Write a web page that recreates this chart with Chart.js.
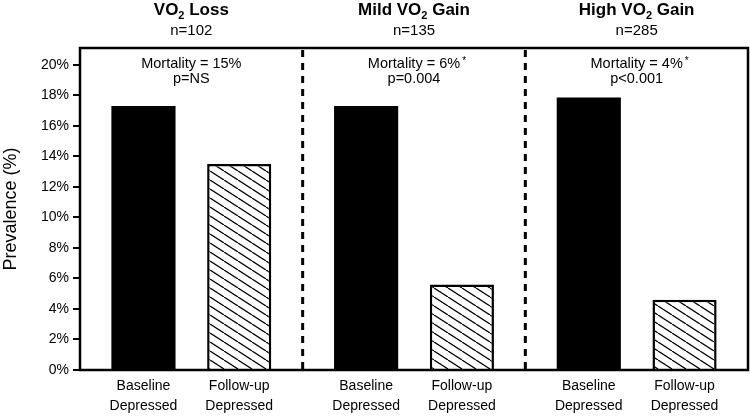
<!DOCTYPE html>
<html><head><meta charset="utf-8">
<script src="https://cdn.jsdelivr.net/npm/chart.js@4"></script>
<style>html,body{margin:0;padding:0;background:#fff}#wrap{width:750px;height:418px;position:relative}</style>
</head><body><div id="wrap"><canvas id="c"></canvas></div>
<script>
// ---- data ----
const groups = ['VO2 Loss', 'Mild VO2 Gain', 'High VO2 Gain'];
const titlePre = ['VO', 'Mild VO', 'High VO'];
const titlePost = [' Loss', ' Gain', ' Gain'];
const groupN = ['n=102', 'n=135', 'n=285'];
const baselineDepressed = [17.3, 17.3, 17.85];
const followupDepressed = [13.5, 5.6, 4.6];
const mortalityText = ['Mortality = 15%', 'Mortality = 6%', 'Mortality = 4%'];
const mortalityStar = [false, true, true];
const pValues = ['p=NS', 'p=0.004', 'p<0.001'];
const barLabels = [['Baseline', 'Depressed'], ['Follow-up', 'Depressed']];
const yTickValues = [0, 2, 4, 6, 8, 10, 12, 14, 16, 18, 20];
const yMax = 21.1;

const FONT = '"Liberation Sans", Arial, Helvetica, sans-serif';

function hatchPattern() {
  const w = 14, h = 9;
  const c = document.createElement('canvas');
  c.width = w; c.height = h;
  const x = c.getContext('2d');
  x.fillStyle = '#fff'; x.fillRect(0, 0, w, h);
  x.strokeStyle = '#000'; x.lineWidth = 1.3;
  x.beginPath();
  for (const k of [-w, 0, w]) { x.moveTo(k, 0); x.lineTo(k + w, h); }
  x.stroke();
  return x.createPattern(c, 'repeat');
}

const decorPlugin = {
  id: 'decor',
  afterDraw(chart) {
    const ctx = chart.ctx;
    const ca = chart.chartArea;
    const xs = chart.scales.x;
    ctx.save();
    // dashed dividers
    ctx.strokeStyle = '#000'; ctx.lineWidth = 3; ctx.setLineDash([7, 6]);
    for (let i = 0; i < groups.length - 1; i++) {
      const xp = (xs.getPixelForValue(i) + xs.getPixelForValue(i + 1)) / 2;
      ctx.beginPath(); ctx.moveTo(xp, ca.top + 2); ctx.lineTo(xp, ca.bottom); ctx.stroke();
    }
    ctx.setLineDash([]);
    // box
    ctx.lineWidth = 2.5;
    ctx.strokeRect(ca.left, ca.top, ca.right - ca.left, ca.bottom - ca.top);

    ctx.fillStyle = '#000';
    ctx.textBaseline = 'middle';
    for (let i = 0; i < groups.length; i++) {
      const cx = xs.getPixelForValue(i);
      // title with subscript 2
      const bf = 'bold 17px ' + FONT, sf = 'bold 11px ' + FONT;
      ctx.font = bf; const w1 = ctx.measureText(titlePre[i]).width;
      const w3 = ctx.measureText(titlePost[i]).width;
      ctx.font = sf; const w2 = ctx.measureText('2').width;
      let x0 = cx - (w1 + w2 + w3) / 2;
      ctx.textAlign = 'left';
      ctx.font = bf; ctx.fillText(titlePre[i], x0, 10);
      ctx.font = sf; ctx.fillText('2', x0 + w1, 16);
      ctx.font = bf; ctx.fillText(titlePost[i], x0 + w1 + w2, 10);
      // n=
      ctx.textAlign = 'center';
      ctx.font = '15px ' + FONT; ctx.fillText(groupN[i], cx, 31);
      // mortality
      ctx.font = '14.5px ' + FONT;
      ctx.fillText(mortalityText[i], cx, 64);
      if (mortalityStar[i]) {
        const mw = ctx.measureText(mortalityText[i]).width;
        ctx.font = '10px ' + FONT; ctx.textAlign = 'left';
        ctx.fillText('*', cx + mw / 2 + 2, 61);
        ctx.textAlign = 'center';
      }
      ctx.font = '14.5px ' + FONT;
      ctx.fillText(pValues[i], cx, 79);
    }
    // bar labels
    ctx.font = '14px ' + FONT; ctx.textAlign = 'center';
    chart.data.datasets.forEach((ds, di) => {
      chart.getDatasetMeta(di).data.forEach(el => {
        ctx.fillText(barLabels[di][0], el.x, 386);
        ctx.fillText(barLabels[di][1], el.x, 406);
      });
    });
    ctx.restore();
  }
};

const canvas = document.getElementById('c');
new Chart(canvas, {
  type: 'bar',
  data: {
    labels: groups,
    datasets: [
      { label: 'Baseline Depressed', data: baselineDepressed, backgroundColor: '#000', borderWidth: 0 },
      { label: 'Follow-up Depressed', data: followupDepressed, backgroundColor: hatchPattern(), borderColor: '#000', borderWidth: 2.5 }
    ]
  },
  options: {
    responsive: true, maintainAspectRatio: false, animation: false,
    devicePixelRatio: 1,
    layout: { padding: { left: 0, right: 2, top: 48, bottom: 48 } },
    plugins: { legend: { display: false }, tooltip: { enabled: false }, title: { display: false } },
    datasets: { bar: { categoryPercentage: 0.86, barPercentage: 0.67 } },
    scales: {
      x: { display: false },
      y: {
        min: 0, max: yMax,
        afterFit: s => { s.width = 80; },
        afterBuildTicks: s => { s.ticks = yTickValues.map(v => ({ value: v })); },
        ticks: { stepSize: 2, callback: v => v + '%', color: '#000', font: { family: FONT, size: 14 }, padding: 4 },
        grid: { drawOnChartArea: false, drawTicks: true, tickLength: 7, color: '#000', lineWidth: 2 },
        border: { display: false },
        title: { display: true, text: 'Prevalence (%)', color: '#000', font: { family: FONT, size: 18 }, padding: { top: 0, bottom: 0 } }
      }
    }
  },
  plugins: [decorPlugin]
});
</script>
</body></html>
